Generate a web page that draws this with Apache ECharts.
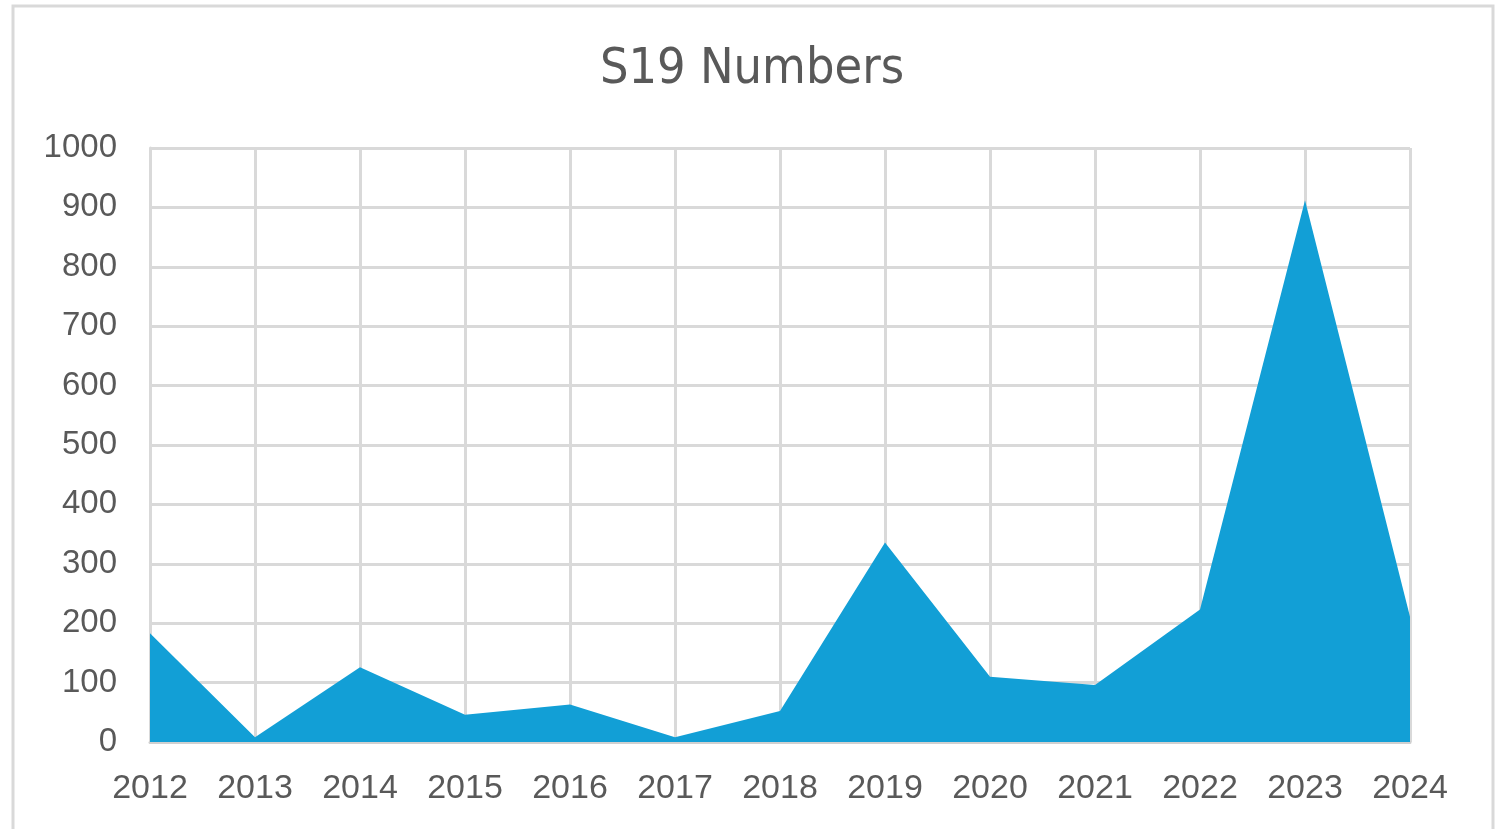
<!DOCTYPE html>
<html>
<head>
<meta charset="utf-8">
<script src="https://cdn.jsdelivr.net/npm/echarts@6/dist/echarts.min.js"></script>
<style>html,body{margin:0;padding:0;background:#fff;}#c{width:1504px;height:829px;}</style>
</head>
<body>
<div id="c"></div>
<script>
const years = ['2012','2013','2014','2015','2016','2017','2018','2019','2020','2021','2022','2023','2024'];
const values = [183, 8, 126, 46, 63, 8, 52, 336, 110, 96, 223, 912, 211];
const yMin = 0, yMax = 1000, yStep = 100;

const chart = echarts.init(document.getElementById('c'));
chart.setOption({
  animation: false,
  backgroundColor: '#ffffff',
  title: {
    text: 'S19 Numbers',
    left: 'center',
    top: 40,
    textStyle: {
      fontFamily: '"Liberation Sans Narrow", "DejaVu Sans Condensed", "Liberation Sans", sans-serif',
      fontSize: 50,
      fontWeight: 'normal',
      color: '#595959'
    }
  },
  graphic: [{
    type: 'rect',
    shape: {x: 13, y: 6, width: 1480, height: 840},
    style: {fill: 'none', stroke: '#d9d9d9', lineWidth: 3},
    silent: true
  }],
  grid: {left: 150, right: 94, top: 148, bottom: 87},
  xAxis: {
    type: 'category',
    data: years,
    boundaryGap: false,
    axisLine: {show: true, lineStyle: {color: '#d0d0d0', width: 3}},
    axisTick: {show: false},
    splitLine: {show: true, lineStyle: {color: '#d9d9d9', width: 3}},
    axisLabel: {
      margin: 30,
      fontFamily: '"Liberation Sans", Arial, sans-serif',
      fontSize: 34,
      color: '#595959',
      interval: 0
    }
  },
  yAxis: {
    type: 'value',
    min: yMin, max: yMax, interval: yStep,
    axisLine: {show: true, lineStyle: {color: '#d9d9d9', width: 3}},
    axisTick: {show: false},
    splitLine: {show: true, lineStyle: {color: '#d9d9d9', width: 3}},
    axisLabel: {
      margin: 33,
      fontFamily: '"Liberation Sans", Arial, sans-serif',
      fontSize: 33,
      color: '#595959',
      formatter: v => String(v)
    }
  },
  series: [{
    type: 'line',
    data: values,
    symbol: 'none',
    lineStyle: {width: 0, color: '#129FD6'},
    areaStyle: {color: '#129FD6', opacity: 1},
    z: 3
  }]
});
</script>
</body>
</html>
